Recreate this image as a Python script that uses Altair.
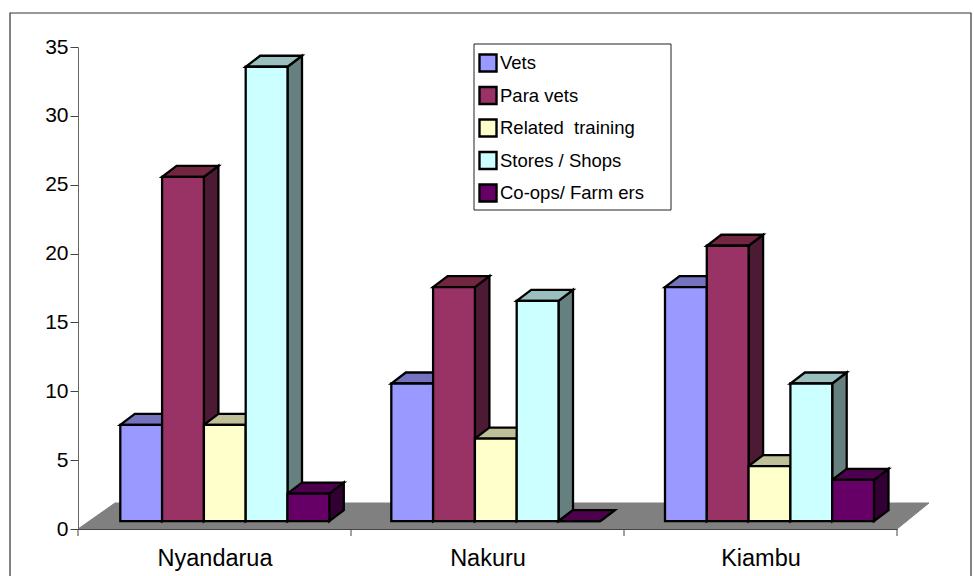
import altair as alt
import pandas as pd

# Survey counts per district and provider type
districts = ["Nyandarua", "Nakuru", "Kiambu"]
series = ["Vets", "Para vets", "Related\u00a0 training", "Stores / Shops", "Co-ops/ Farm ers"]
vets = [7, 10, 17]
para_vets = [25, 17, 20]
related_training = [7, 6, 4]
stores_shops = [33, 16, 10]
coops_farmers = [2, 0, 3]
all_values = [vets, para_vets, related_training, stores_shops, coops_farmers]

front_colors = ["#9999FF", "#993366", "#FFFFCC", "#CCFFFF", "#660066"]
top_colors = ["#7373BF", "#732640", "#BFBF99", "#99BFBF", "#4D004D"]
side_colors = ["#4D4D80", "#4D1A33", "#808066", "#668080", "#330033"]

W, H = 819, 482
PX_X = 3 / W          # category units per pixel
PX_Y = 35 / H         # value units per pixel

# Projection of the pseudo-3D scene, in scale units
lift = 7.8 * PX_Y
depth_x = 14.5 * PX_X
depth_y = 11 * PX_Y
bar_w = 41.8 * PX_X
group_start = [42.3 * PX_X, 40.3 * PX_X, 41 * PX_X]

fronts, tops, sides = [], [], []
for s, vals in enumerate(all_values):
    for g, v in enumerate(vals):
        x0 = g + group_start[g] + s * bar_w
        x1 = x0 + bar_w
        base, top = lift, v + lift
        bar = f"{g}-{s}"
        fronts.append(dict(series=series[s], x0=x0, x1=x1, y0=base, y1=top))
        tops.append(dict(bar=bar, shade=top_colors[s], y=top, xa=x0, xb=x1))
        tops.append(dict(bar=bar, shade=top_colors[s], y=top + depth_y,
                         xa=x0 + depth_x, xb=x1 + depth_x))
        sides.append(dict(bar=bar, shade=side_colors[s], x=x1, ya=base, yb=top))
        sides.append(dict(bar=bar, shade=side_colors[s], x=x1 + depth_x,
                          ya=base + depth_y, yb=top + depth_y))

floor = pd.DataFrame([
    dict(y=0, xa=0, xb=3),
    dict(y=26 * PX_Y, xa=37 * PX_X, xb=851 * PX_X),
])

x_scale = alt.Scale(domain=[0, 3], nice=False, zero=False)
y_scale = alt.Scale(domain=[0, 35], nice=False, zero=False)

y_axis = alt.Axis(values=list(range(0, 36, 5)), grid=False, tickSize=8, tickColor="#444444",
                  domainColor="#666666", labelFont="Liberation Sans", labelFontSize=21,
                  labelColor="black", labelPadding=2, zindex=1, title=None)
x_axis = alt.Axis(values=[0.5, 1.5, 2.5], ticks=False, grid=False, domainColor="#444444",
                  labelExpr=f"{districts}[floor(datum.value)]",
                  labelFont="Liberation Sans", labelFontSize=23.5, labelColor="black",
                  labelPadding=17, zindex=1, title=None)

# Outer frame of the chart object; its lower edge runs off the page
frame = alt.Chart(pd.DataFrame({"a": [0]})).mark_rect(
    fill="white", stroke="#333333", strokeWidth=1.2
).encode(x=alt.value(-68), x2=alt.value(893), y=alt.value(-34), y2=alt.value(H + 80))

floor_layer = alt.Chart(floor).mark_area(
    orient="horizontal", color="#808080", stroke="#808080", strokeWidth=1
).encode(
    y=alt.Y("y:Q", scale=y_scale, stack=None, axis=y_axis),
    x=alt.X("xa:Q", scale=x_scale, axis=x_axis),
    x2="xb:Q",
)

x_ticks = alt.Chart(pd.DataFrame({"x": [0, 1, 2, 3]})).mark_rule(color="#444444", strokeWidth=1).encode(
    x=alt.X("x:Q", scale=x_scale, axis=x_axis), y=alt.value(H), y2=alt.value(H + 7)
)

side_layer = alt.Chart(pd.DataFrame(sides)).mark_area(stroke="black", strokeWidth=2.3).encode(
    x=alt.X("x:Q", scale=x_scale, axis=x_axis),
    y=alt.Y("ya:Q", scale=y_scale, stack=None, axis=y_axis),
    y2="yb:Q",
    color=alt.Color("shade:N", scale=None),
    detail="bar:N",
)

top_layer = alt.Chart(pd.DataFrame(tops)).mark_area(
    orient="horizontal", stroke="black", strokeWidth=2.3
).encode(
    y=alt.Y("y:Q", scale=y_scale, stack=None, axis=y_axis),
    x=alt.X("xa:Q", scale=x_scale, axis=x_axis),
    x2="xb:Q",
    color=alt.Color("shade:N", scale=None),
    detail="bar:N",
)

front_layer = alt.Chart(pd.DataFrame(fronts)).mark_rect(stroke="black", strokeWidth=2.3).encode(
    x=alt.X("x0:Q", scale=x_scale, axis=x_axis),
    x2="x1:Q",
    y=alt.Y("y0:Q", scale=y_scale, axis=y_axis),
    y2="y1:Q",
    color=alt.Color(
        "series:N",
        scale=alt.Scale(domain=series, range=front_colors),
        legend=alt.Legend(
            title=None, orient="none", legendX=395, legendY=1, symbolType="square",
            symbolSize=290, symbolStrokeColor="black", symbolStrokeWidth=2.4, symbolOpacity=1,
            labelFont="Liberation Sans", labelFontSize=18.5, labelColor="black",
            rowPadding=4.5, labelOffset=2, padding=5,
            labelLimit=300,
        ),
    ),
)

legend_box = alt.Chart(pd.DataFrame({"a": [0]})).mark_rect(
    fill="white", stroke="#222222", strokeWidth=1
).encode(x=alt.value(396), x2=alt.value(593), y=alt.value(-3), y2=alt.value(163))

chart = alt.layer(
    frame, floor_layer, x_ticks, side_layer, top_layer, front_layer, legend_box
).resolve_scale(color="independent").properties(
    width=W,
    height=H,
    padding={"left": 78, "top": 47, "right": 77, "bottom": 47},
    autosize=alt.AutoSizeParams(type="none"),
    background="white",
).configure_view(stroke=None)

chart.save("out.html", embed_options={"renderer": "svg", "actions": False})
